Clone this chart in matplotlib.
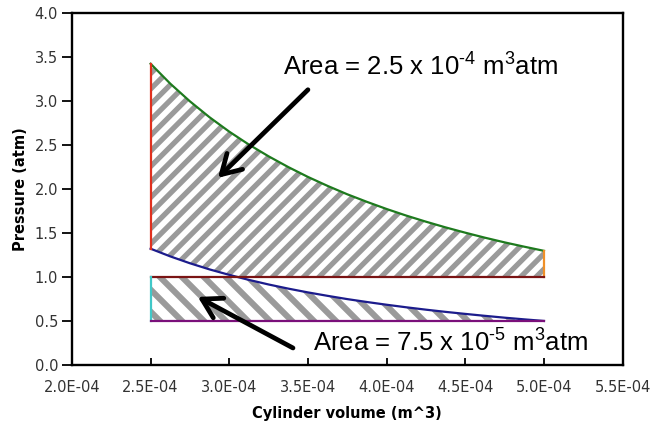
import numpy as np
import matplotlib
matplotlib.use("Agg")
import matplotlib.pyplot as plt
from matplotlib.collections import LineCollection
from matplotlib.ticker import FormatStrFormatter
from matplotlib.transforms import IdentityTransform

# cylinder volume (units of 1e-4 m^3) and pressures
volume = [2.500, 2.625, 2.750, 2.875, 3.000, 3.125, 3.250, 3.375, 3.500, 3.625, 3.750,
          3.875, 4.000, 4.125, 4.250, 4.375, 4.500, 4.625, 4.750, 4.875, 5.000]
p_hot = [3.420, 3.194, 2.993, 2.812, 2.649, 2.502, 2.369, 2.247, 2.135, 2.033, 1.938,
         1.852, 1.771, 1.696, 1.627, 1.562, 1.502, 1.445, 1.392, 1.343, 1.296]
p_cold = [1.320, 1.233, 1.155, 1.085, 1.023, 0.966, 0.914, 0.867, 0.824, 0.785, 0.748,
          0.715, 0.684, 0.655, 0.628, 0.603, 0.580, 0.558, 0.537, 0.518, 0.500]
p_mid = 1.0
p_min = 0.5

label_big = "Area = 2.5 x 10$^{\u20104}$ m$^{3}$atm"
label_small = "Area = 7.5 x 10$^{\u20105}$ m$^{3}$atm"

x_ticks = [2.0, 2.5, 3.0, 3.5, 4.0, 4.5, 5.0, 5.5]
y_ticks = [0.0, 0.5, 1.0, 1.5, 2.0, 2.5, 3.0, 3.5, 4.0]

plt.rcParams["mathtext.fontset"] = "custom"
plt.rcParams["mathtext.rm"] = "Liberation Sans"
plt.rcParams["mathtext.it"] = "Liberation Sans:italic"

V = np.array(volume) * 1e-4
hot = np.array(p_hot)
cold = np.array(p_cold)

fig = plt.figure(figsize=(6.54, 4.25), dpi=100)
ax = fig.add_axes([0.110, 0.1412, 0.842, 0.829])
ax.set_xlim(2.0e-4, 5.5e-4)
ax.set_ylim(0, 4.0)


def hatch(poly, spacing, width, direction):
    # parallel grey stripes (pixel spacing along x) clipped to the polygon
    x0, y0, x1, y1 = ax.bbox.extents
    h = y1 - y0
    segs = []
    for s in np.arange(x0 - h, x1 + h, spacing):
        if direction > 0:
            segs.append([(s, y0), (s + h, y1)])
        else:
            segs.append([(s, y1), (s + h, y0)])
    lc = LineCollection(segs, colors="#9a9a9a", linewidths=width,
                        transform=IdentityTransform(), zorder=1)
    lc.set_clip_path(poly.get_paths()[0], ax.transData)
    ax.add_collection(lc)


upper = ax.fill_between(V, hot, np.maximum(cold, p_mid), facecolor="none",
                        edgecolor="none")
lower = ax.fill_between(V, np.minimum(cold, p_mid), p_min, facecolor="none",
                        edgecolor="none")
fig.canvas.draw()
hatch(upper, 15.5, 3.8, 1)
hatch(lower, 22, 4.4, -1)

lw = 1.6
ax.plot(V, hot, color="#1e7a1e", lw=lw, zorder=3)
ax.plot(V, cold, color="#1c1c8c", lw=lw, zorder=3)
ax.plot([V[0], V[0]], [cold[0], hot[0]], color="#e0301e", lw=lw, zorder=3)
ax.plot([V[-1], V[-1]], [p_mid, hot[-1]], color="#f09028", lw=lw, zorder=3)
ax.plot([V[0], V[-1]], [p_mid, p_mid], color="#7a1414", lw=lw, zorder=3)
ax.plot([V[0], V[0]], [p_min, p_mid], color="#40c8c8", lw=lw, zorder=3)
ax.plot([V[0], V[-1]], [p_min, p_min], color="#7a107a", lw=lw, zorder=3)

arrow = dict(arrowstyle="->,head_length=0.68,head_width=0.4", lw=3.4,
             color="black", shrinkA=0, shrinkB=0, mutation_scale=20)
ax.annotate("", xy=(2.928e-4, 2.125), xytext=(3.50e-4, 3.125),
            arrowprops=arrow, zorder=4)
ax.annotate("", xy=(2.80e-4, 0.773), xytext=(3.405e-4, 0.193),
            arrowprops=arrow, zorder=4)

ax.text(3.341e-4, 3.284, label_big, fontsize=18.5, family="Liberation Sans",
        va="baseline", ha="left", zorder=5)
ax.text(3.53e-4, 0.148, label_small, fontsize=18.5, family="Liberation Sans",
        va="baseline", ha="left", zorder=5)

ax.set_xticks(np.array(x_ticks) * 1e-4)
ax.set_yticks(y_ticks)
ax.xaxis.set_major_formatter(FormatStrFormatter("%.1E"))
ax.yaxis.set_major_formatter(FormatStrFormatter("%.1f"))
ax.tick_params(axis="x", direction="in", length=5, width=1.3, pad=11,
               labelsize=10.5, labelcolor="#333333")
ax.tick_params(axis="y", direction="out", length=7, width=1.3, pad=3,
               labelsize=10.5, labelcolor="#333333")
for sp in ax.spines.values():
    sp.set_linewidth(1.7)

ax.set_xlabel("Cylinder volume (m^3)", fontsize=10.5, fontweight="bold",
              labelpad=8)
ax.set_ylabel("Pressure (atm)", fontsize=10.5, fontweight="bold", labelpad=5)

fig.savefig("out.png", dpi=100)
